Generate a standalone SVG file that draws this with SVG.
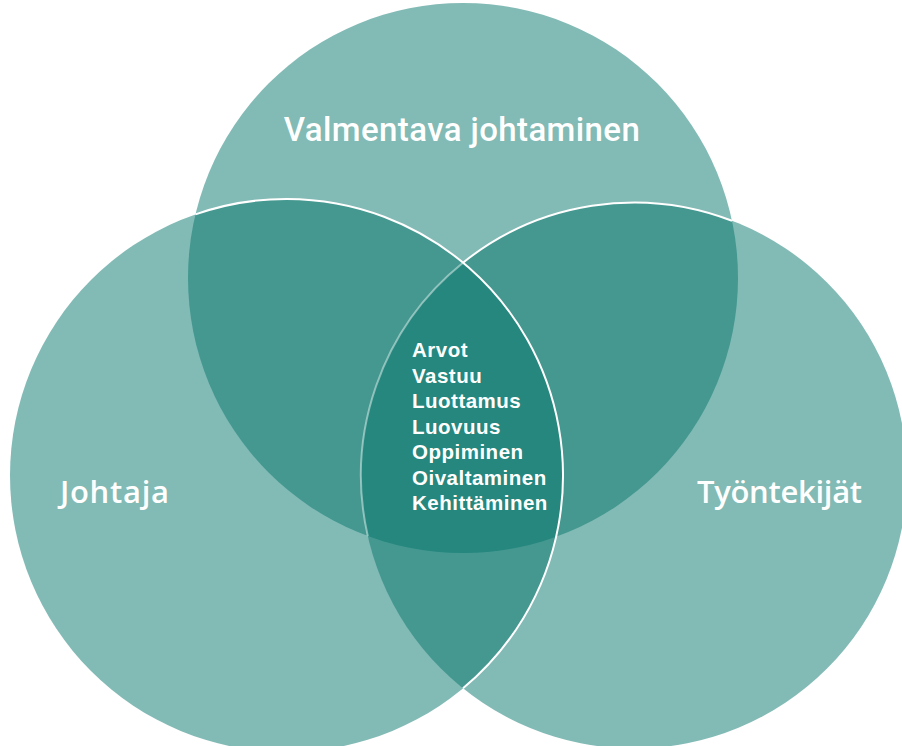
<svg xmlns="http://www.w3.org/2000/svg" width="902" height="746" viewBox="0 0 902 746">
<style>
.c{fill:#05756B;fill-opacity:0.5}
.e{fill:none;stroke:#ffffff;stroke-width:2}
.lbl{fill:#ffffff;font-family:"Open Sans","Liberation Sans",sans-serif;font-weight:600;font-size:31px}
.top{fill:#ffffff;font-family:Roboto,"Liberation Sans",sans-serif;font-weight:500;font-size:33px;letter-spacing:0.4px}
.lst{fill:#ffffff;font-family:"Liberation Sans",Arial,sans-serif;font-weight:bold;font-size:20.5px;letter-spacing:0.5px}
</style>
<rect width="902" height="746" fill="#ffffff"/>
<g id="valmentava">
<circle class="c" cx="463" cy="278" r="275"/>
<text class="top" x="462" y="141" text-anchor="middle">Valmentava johtaminen</text>
</g>
<g id="johtaja">
<circle class="c" cx="286.5" cy="475.5" r="276.5"/>
<text class="lbl" x="60" y="503" letter-spacing="0.7">Johtaja</text>
</g>
<g id="tyontekijat">
<circle class="c" cx="634" cy="475.5" r="273"/>
<text class="lbl" x="697" y="503" letter-spacing="-0.3">Työntekijät</text>
</g>
<g id="edges">
<path class="e" d="M195.4,214.4 A276.5,276.5 0 0 1 463,688.3"/>
<path class="e" d="M463,262.7 A273,273 0 0 1 732,220.7"/>
<path class="e" stroke-opacity="0.45" stroke-width="1.5" d="M463,262.7 A273,273 0 0 0 367.8,536.1"/>
</g>
<g id="center">
<text class="lst" x="412" y="357">Arvot</text>
<text class="lst" x="412" y="382.5">Vastuu</text>
<text class="lst" x="412" y="408">Luottamus</text>
<text class="lst" x="412" y="433.5">Luovuus</text>
<text class="lst" x="412" y="459">Oppiminen</text>
<text class="lst" x="412" y="484.5">Oivaltaminen</text>
<text class="lst" x="412" y="510">Kehittäminen</text>
</g>
</svg>
